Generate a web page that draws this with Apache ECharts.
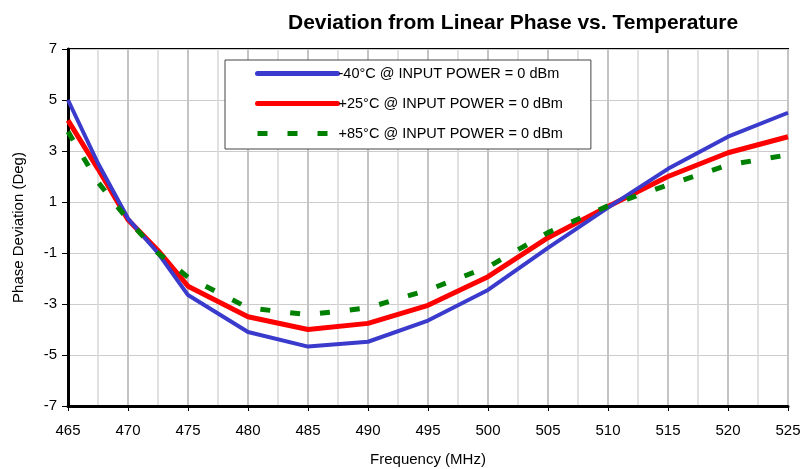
<!DOCTYPE html>
<html>
<head>
<meta charset="utf-8">
<script src="https://cdn.jsdelivr.net/npm/echarts@6/dist/echarts.min.js"></script>
<style>
  html, body { margin: 0; padding: 0; background: #fff; }
  #chart { width: 802px; height: 469px; }
</style>
</head>
<body>
<div id="chart"></div>
<script>
// frequency points (MHz)
var freq = [465, 467.5, 470, 472.5, 475, 480, 485, 490, 495, 500, 505, 510, 515, 520, 525]
// phase deviation (Deg)
var coldVals = [5.0, 2.52, 0.35, -1.0, -2.65, -4.1, -4.67, -4.48, -3.65, -2.45, -0.8, 0.78, 2.3, 3.56, 4.5]
var roomVals = [4.2, 2.3, 0.3, -0.9, -2.3, -3.5, -4.0, -3.76, -3.05, -1.93, -0.4, 0.82, 2.0, 2.93, 3.56]
var hotVals = [3.76, 1.78, 0.3, -1.0, -1.95, -3.15, -3.42, -3.15, -2.45, -1.55, -0.2, 0.85, 1.67, 2.45, 2.85]
var seriesNames = ['-40°C @ INPUT POWER = 0 dBm', '+25°C @ INPUT POWER = 0 dBm', '+85°C @ INPUT POWER = 0 dBm']
var yTicks = [-7, -5, -3, -1, 1, 3, 5, 7]

var colors = ['#3a3acc', '#ff0000', '#008000']

function pairs (vals) {
  return freq.map(function (f, i) { return [f, vals[i]] })
}

var chart = echarts.init(document.getElementById('chart'))
chart.setOption({
  animation: false,
  textStyle: { fontFamily: 'Liberation Sans, Arial, sans-serif' },
  title: {
    text: 'Deviation from Linear Phase vs. Temperature',
    left: 283,
    top: 8,
    textStyle: { fontSize: 21, fontWeight: 'bold', color: '#000' }
  },
  legend: {
    orient: 'vertical',
    left: 225,
    top: 60,
    padding: [6, 28, 8, 30],
    itemWidth: 80,
    itemHeight: 14,
    itemGap: 15,
    backgroundColor: '#fff',
    borderColor: '#444',
    borderWidth: 1,
    itemStyle: { color: 'transparent', borderWidth: 0 },
    textStyle: { fontSize: 14.5, color: '#000', padding: [0, 0, 0, -4] },
    data: [
      { name: seriesNames[0], lineStyle: { color: colors[0], width: 5, cap: 'round' } },
      { name: seriesNames[1], lineStyle: { color: colors[1], width: 5, cap: 'round' } },
      { name: seriesNames[2], lineStyle: { color: colors[2], width: 5, type: [10, 20] } }
    ]
  },
  grid: {
    left: 68,
    top: 49,
    width: 720,
    height: 357,
    show: true,
    borderColor: '#000',
    borderWidth: 2,
    containLabel: false,
    outerBoundsMode: 'none'
  },
  xAxis: {
    type: 'value',
    min: 465,
    max: 525,
    interval: 5,
    name: 'Frequency (MHz)',
    nameLocation: 'middle',
    nameGap: 46,
    nameTextStyle: { fontSize: 15, color: '#000' },
    axisLine: { onZero: false, lineStyle: { color: '#000', width: 3 } },
    axisTick: { show: true, length: 5, lineStyle: { color: '#000', width: 1 } },
    axisLabel: { fontSize: 15, color: '#000', margin: 17 },
    splitLine: { show: true, lineStyle: { color: '#c4c4c4', width: 2 } },
    minorTick: { show: false, splitNumber: 2 },
    minorSplitLine: { show: true, lineStyle: { color: '#d8d8d8', width: 1.5 } }
  },
  yAxis: {
    type: 'value',
    min: -7,
    max: 7,
    interval: 1,
    name: 'Phase Deviation (Deg)',
    nameLocation: 'middle',
    nameGap: 42,
    nameTextStyle: { fontSize: 15, color: '#000' },
    axisLine: { show: true, onZero: false, lineStyle: { color: '#000', width: 3 } },
    axisTick: { show: true, length: 6, customValues: yTicks, lineStyle: { color: '#000', width: 1 } },
    axisLabel: { fontSize: 15, color: '#000', margin: 11, customValues: yTicks },
    splitLine: { show: true, lineStyle: { color: '#cccccc', width: 1 } }
  },
  series: [
    {
      name: seriesNames[0],
      type: 'line',
      data: pairs(coldVals),
      symbol: 'none',
      z: 4,
      lineStyle: { color: colors[0], width: 4 },
      itemStyle: { color: colors[0] }
    },
    {
      name: seriesNames[1],
      type: 'line',
      data: pairs(roomVals),
      symbol: 'none',
      z: 3,
      lineStyle: { color: colors[1], width: 5 },
      itemStyle: { color: colors[1] }
    },
    {
      name: seriesNames[2],
      type: 'line',
      data: pairs(hotVals),
      symbol: 'none',
      z: 5,
      lineStyle: { color: colors[2], width: 5, type: [10, 20] },
      itemStyle: { color: colors[2] }
    }
  ]
})
</script>
</body>
</html>
